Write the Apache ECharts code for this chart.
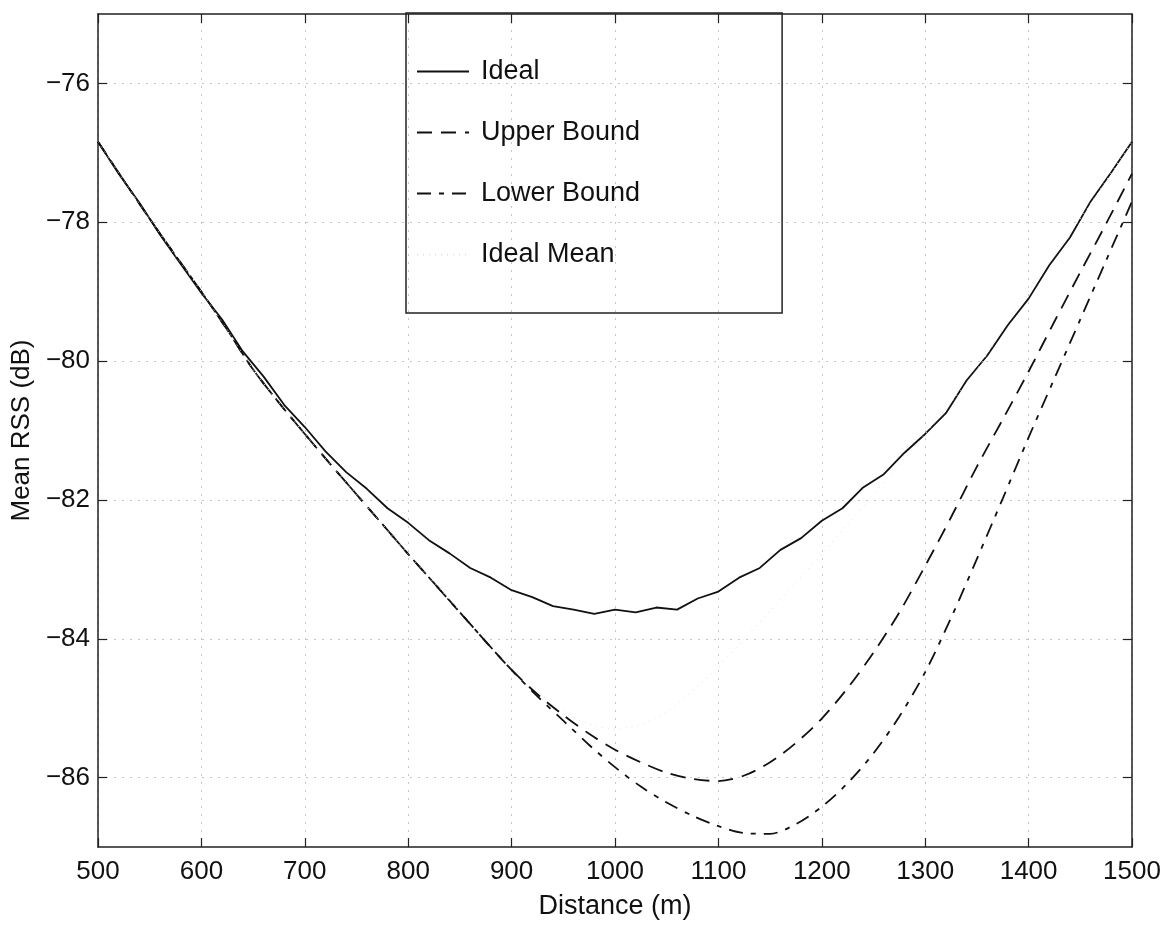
<!DOCTYPE html>
<html>
<head>
<meta charset="utf-8">
<script src="https://cdn.jsdelivr.net/npm/echarts@6/dist/echarts.min.js"></script>
<style>
html,body{margin:0;padding:0;background:#fff;}
#c{width:1174px;height:925px;}
</style>
</head>
<body>
<div id="c"></div>
<script>
// Distances (m) for the measured ideal curve
const distanceIdeal = [500,520,540,560,580,600,620,640,660,680,700,720,740,760,780,800,820,840,860,880,900,
  920,940,960,980,1000,1020,1040,1060,1080,1100,1120,1140,1160,1180,1200,1220,1240,1260,1280,1300,
  1320,1340,1360,1380,1400,1420,1440,1460,1480,1500];
// Ideal (noisy solid line)
const ideal = [-76.84,-77.30,-77.72,-78.18,-78.60,-79.02,-79.40,-79.86,-80.22,-80.63,-80.95,-81.30,-81.60,-81.84,-82.12,-82.33,-82.58,-82.77,-82.98,-83.12,-83.30,
  -83.40,-83.53,-83.58,-83.64,-83.58,-83.62,-83.55,-83.58,-83.42,-83.32,-83.12,-82.98,-82.72,-82.55,-82.30,-82.12,-81.82,-81.63,-81.32,-81.05,
  -80.75,-80.28,-79.92,-79.48,-79.10,-78.62,-78.22,-77.70,-77.28,-76.84];
// Distances (m) for bounds and mean
const distance = [500,525,550,575,600,625,650,675,700,725,750,775,800,825,850,875,900,925,950,975,1000,
  1025,1050,1075,1100,1125,1150,1175,1200,1225,1250,1275,1300,1325,1350,1375,1400,1425,1450,1475,1500];
// Upper bound (dashed)
const upperBound = [-76.84,-77.40,-77.95,-78.48,-79.00,-79.55,-80.12,-80.60,-81.05,-81.49,-81.92,-82.35,-82.78,-83.20,-83.62,-84.04,-84.45,-84.80,-85.10,-85.37,-85.60,
  -85.78,-85.93,-86.02,-86.05,-85.97,-85.78,-85.50,-85.15,-84.71,-84.20,-83.62,-82.95,-82.25,-81.52,-80.84,-80.15,-79.43,-78.72,-78.02,-77.30];
// Lower bound (dash-dot)
const lowerBound = [-76.84,-77.40,-77.95,-78.48,-79.00,-79.55,-80.12,-80.60,-81.05,-81.49,-81.92,-82.35,-82.78,-83.20,-83.62,-84.04,-84.45,-84.83,-85.18,-85.53,-85.85,
  -86.13,-86.36,-86.55,-86.70,-86.80,-86.81,-86.67,-86.42,-86.08,-85.65,-85.12,-84.48,-83.70,-82.85,-81.98,-81.10,-80.25,-79.40,-78.55,-77.70];
// Ideal mean (faint dotted)
const idealMean = [-76.84,-77.40,-77.95,-78.48,-79.00,-79.55,-80.12,-80.60,-81.05,-81.49,-81.92,-82.35,-82.78,-83.19,-83.60,-84.00,-84.40,-84.75,-85.05,-85.23,-85.30,
  -85.23,-85.05,-84.75,-84.40,-84.00,-83.60,-83.19,-82.78,-82.35,-81.92,-81.49,-81.05,-80.60,-80.12,-79.55,-79.00,-78.48,-77.95,-77.40,-76.84];

const yTicks = [-86,-84,-82,-80,-78,-76];
const seriesNames = ['Ideal','Upper Bound','Lower Bound','Ideal Mean'];

function pairs(xs, vals){ return xs.map((d,i)=>[d, vals[i]]); }
const minus = v => v < 0 ? '\u2212' + Math.abs(v) : String(v);

const FONT = 'Liberation Sans, Arial, Helvetica, sans-serif';
const axisCol = '#222';
const gridLine = {show:true, lineStyle:{color:'#c8c8c8', type:[2,6], width:1}};

const chart = echarts.init(document.getElementById('c'), null, {renderer:'canvas'});
chart.setOption({
  animation:false,
  backgroundColor:'#fff',
  grid:{left:98, top:14, width:1034, height:835, containLabel:false},
  legend:{
    data:seriesNames,
    orient:'vertical',
    left:406, top:13,
    padding:[45,142,45,10],
    itemWidth:52, itemHeight:27, itemGap:34,
    borderColor:'#222', borderWidth:1.5, borderRadius:0,
    backgroundColor:'transparent',
    selectedMode:false,
    itemStyle:{opacity:0},
    textStyle:{fontFamily:FONT, fontSize:27, color:'#111', lineHeight:27, padding:[0,0,0,7]}
  },
  xAxis:[{
    type:'value', min:500, max:1500, interval:100, position:'bottom',
    name:'Distance (m)', nameLocation:'middle', nameGap:46,
    nameTextStyle:{fontFamily:FONT, fontSize:27, color:'#111'},
    axisLine:{show:true, onZero:false, lineStyle:{color:axisCol, width:1.5}},
    axisTick:{show:true, inside:true, length:9, lineStyle:{color:axisCol, width:1.2}},
    axisLabel:{fontFamily:FONT, fontSize:26, color:'#111', margin:12, formatter:v=>String(v)},
    splitLine:gridLine
  },{
    type:'value', min:500, max:1500, interval:100, position:'top',
    axisLine:{show:true, onZero:false, lineStyle:{color:axisCol, width:1.5}},
    axisTick:{show:true, inside:true, length:9, lineStyle:{color:axisCol, width:1.2}},
    axisLabel:{show:false}, splitLine:{show:false}
  }],
  yAxis:[{
    type:'value', min:-87, max:-75, position:'left',
    name:'Mean RSS (dB)', nameLocation:'middle', nameGap:63, nameRotate:90,
    nameTextStyle:{fontFamily:FONT, fontSize:26, color:'#111'},
    axisLine:{show:true, onZero:false, lineStyle:{color:axisCol, width:1.5}},
    axisTick:{show:true, inside:true, length:9, customValues:yTicks, lineStyle:{color:axisCol, width:1.2}},
    axisLabel:{fontFamily:FONT, fontSize:26, color:'#111', margin:8, customValues:yTicks, formatter:minus},
    splitLine:gridLine
  },{
    type:'value', min:-87, max:-75, position:'right',
    axisLine:{show:true, onZero:false, lineStyle:{color:axisCol, width:1.5}},
    axisTick:{show:true, inside:true, length:9, customValues:yTicks, lineStyle:{color:axisCol, width:1.2}},
    axisLabel:{show:false}, splitLine:{show:false}
  }],
  series:[
    {name:'Ideal', type:'line', data:pairs(distanceIdeal, ideal), xAxisIndex:0, yAxisIndex:0,
     symbol:'none', smooth:false, lineStyle:{color:'#111', width:1.8, type:'solid'}, itemStyle:{color:'#111'}},
    {name:'Upper Bound', type:'line', data:pairs(distance, upperBound), xAxisIndex:0, yAxisIndex:0,
     symbol:'none', smooth:0.3, lineStyle:{color:'#111', width:1.8, type:[15,9]}, itemStyle:{color:'#111'}},
    {name:'Lower Bound', type:'line', data:pairs(distance, lowerBound), xAxisIndex:0, yAxisIndex:0,
     symbol:'none', smooth:0.3, lineStyle:{color:'#111', width:1.8, type:[14,8,5,8]}, itemStyle:{color:'#111'}},
    {name:'Ideal Mean', type:'line', data:pairs(distance, idealMean), xAxisIndex:0, yAxisIndex:0,
     symbol:'none', smooth:0.3, lineStyle:{color:'#e2e2e2', width:1, type:[1,5]}, itemStyle:{color:'#e2e2e2'}}
  ]
});
</script>
</body>
</html>
